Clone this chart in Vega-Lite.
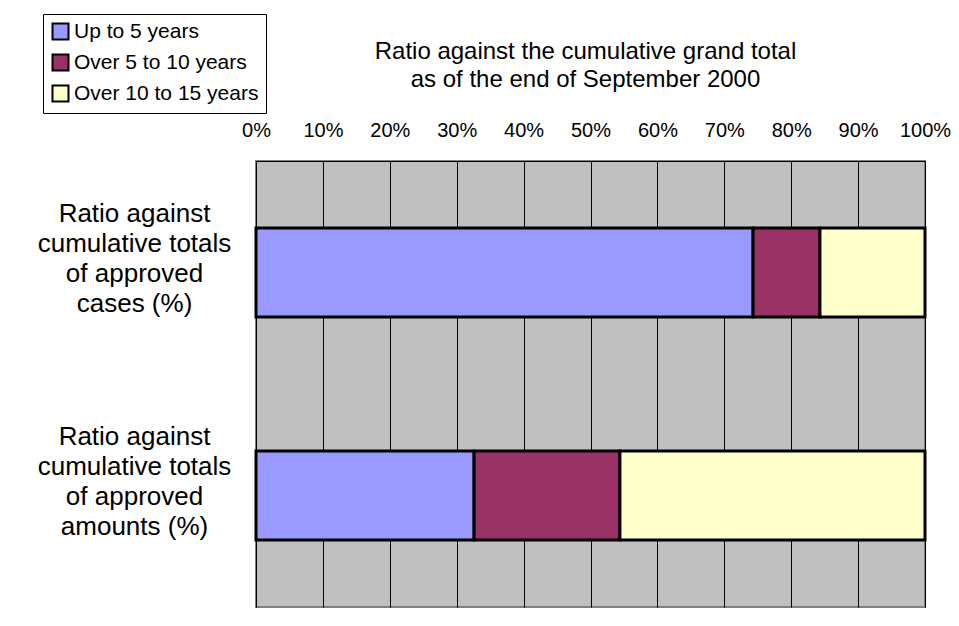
{
  "$schema": "https://vega.github.io/schema/vega-lite/v6.json",
  "width": 669,
  "height": 446,
  "autosize": "none",
  "padding": {"left": 256, "top": 161, "right": 34, "bottom": 19},
  "background": "white",
  "config": {
    "font": "Liberation Sans",
    "view": {"fill": "#C0C0C0", "stroke": "#808080", "strokeWidth": 2}
  },
  "title": {
    "text": ["Ratio against the cumulative grand total", "as of the end of September 2000"],
    "fontSize": 24,
    "fontWeight": "normal",
    "color": "black",
    "anchor": "middle",
    "frame": "group",
    "lineHeight": 28,
    "offset": 8,
    "dy": 86,
    "dx": -5
  },
  "data": {
    "values": [
      {"measure": "Ratio against cumulative totals of approved cases (%)", "period": "Up to 5 years", "share": 74.3},
      {"measure": "Ratio against cumulative totals of approved cases (%)", "period": "Over 5 to 10 years", "share": 10.0},
      {"measure": "Ratio against cumulative totals of approved cases (%)", "period": "Over 10 to 15 years", "share": 15.7},
      {"measure": "Ratio against cumulative totals of approved amounts (%)", "period": "Up to 5 years", "share": 32.6},
      {"measure": "Ratio against cumulative totals of approved amounts (%)", "period": "Over 5 to 10 years", "share": 21.8},
      {"measure": "Ratio against cumulative totals of approved amounts (%)", "period": "Over 10 to 15 years", "share": 45.6}
    ]
  },
  "mark": {"type": "bar", "stroke": "black", "strokeWidth": 3},
  "encoding": {
    "y": {
      "field": "measure",
      "type": "nominal",
      "sort": null,
      "scale": {"paddingInner": 0.6, "paddingOuter": 0.3},
      "axis": {
        "title": null,
        "orient": "left",
        "domain": true,
        "domainColor": "black",
        "domainWidth": 1,
        "ticks": false,
        "labelAlign": "center",
        "labelBaseline": "middle",
        "labelPadding": 122,
        "labelOffset": -59,
        "labelFontSize": 26,
        "labelLineHeight": 30,
        "labelColor": "black",
        "labelLimit": 300,
        "labelExpr": "['Ratio against', 'cumulative totals', 'of approved', slice(datum.label, 44)]"
      }
    },
    "x": {
      "field": "share",
      "type": "quantitative",
      "stack": "normalize",
      "scale": {"domain": [0, 1], "nice": false},
      "axis": {
        "title": null,
        "orient": "top",
        "format": ".0%",
        "values": [0, 0.1, 0.2, 0.3, 0.4, 0.5, 0.6, 0.7, 0.8, 0.9, 1],
        "labelOverlap": false,
        "grid": true,
        "gridColor": "black",
        "gridWidth": 1,
        "gridOpacity": 1,
        "domain": true,
        "domainColor": "black",
        "ticks": false,
        "labelFontSize": 20,
        "labelColor": "black",
        "labelPadding": 21,
        "labelFlush": false
      }
    },
    "order": {"field": "period", "sort": "descending"},
    "color": {
      "field": "period",
      "type": "nominal",
      "scale": {
        "domain": ["Up to 5 years", "Over 5 to 10 years", "Over 10 to 15 years"],
        "range": ["#9999FF", "#993366", "#FFFFCC"]
      },
      "legend": {
        "title": null,
        "orient": "none",
        "legendX": -213,
        "legendY": -147,
        "direction": "vertical",
        "symbolType": "square",
        "symbolSize": 256,
        "symbolStrokeColor": "black",
        "symbolStrokeWidth": 2,
        "symbolOpacity": 1,
        "labelFontSize": 21,
        "labelColor": "black",
        "labelOffset": 3,
        "labelLimit": 300,
        "rowPadding": 6,
        "padding": 7,
        "strokeColor": "black",
        "fillColor": "white"
      }
    }
  }
}
